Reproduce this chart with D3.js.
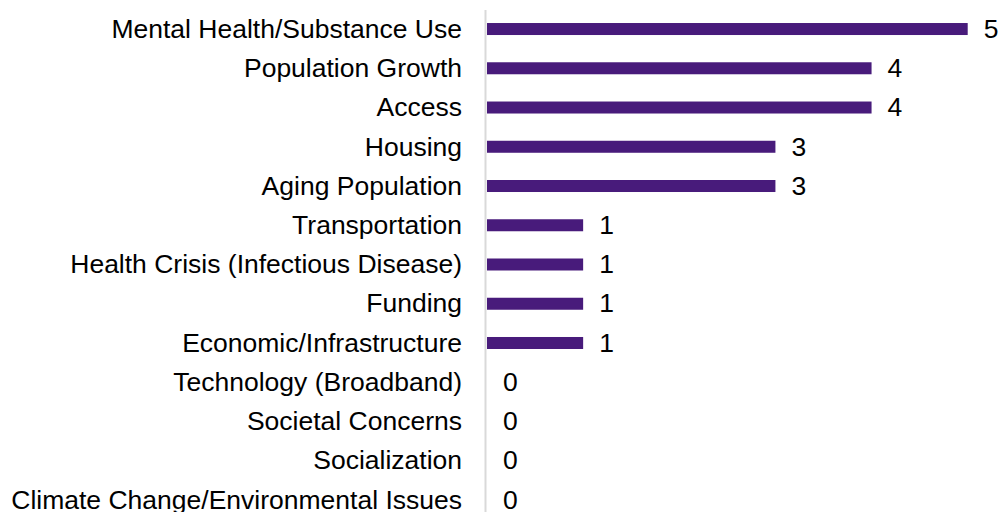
<!DOCTYPE html>
<html><head><meta charset="utf-8">
<script src="https://cdn.jsdelivr.net/npm/d3@7"></script>
<style>html,body{margin:0;padding:0;background:#fff;overflow:hidden}</style>
</head><body>
<svg id="chart" width="1001" height="512"></svg>
<script>
const categories = ["Mental Health/Substance Use","Population Growth","Access","Housing","Aging Population","Transportation","Health Crisis (Infectious Disease)","Funding","Economic/Infrastructure","Technology (Broadband)","Societal Concerns","Socialization","Climate Change/Environmental Issues"];
const values = [5,4,4,3,3,1,1,1,1,0,0,0,0];

const svg = d3.select("#chart");
const x = d3.scaleLinear().domain([0,5]).range([487,967.7]);
const y = d3.scaleBand().domain(categories).range([9.4,519.6]).paddingInner(0.694).paddingOuter(0.347);
const data = categories.map((c,i)=>({c,v:values[i]}));
const font = "'Liberation Sans', Arial, sans-serif";
const fs = 26.5;

svg.append("line").attr("x1",485.5).attr("x2",485.5).attr("y1",10).attr("y2",512)
  .attr("stroke","#d9d9d9").attr("stroke-width",2);

svg.selectAll("rect.bar").data(data).enter().append("rect")
  .attr("x",x(0)).attr("y",d=>y(d.c)+y.bandwidth()/2-6)
  .attr("width",d=>x(d.v)-x(0)).attr("height",12).attr("fill","#481b7b");

svg.selectAll("text.cat").data(data).enter().append("text")
  .attr("x",462).attr("y",d=>y(d.c)+y.bandwidth()/2).attr("dy","0.33em")
  .attr("text-anchor","end").attr("font-family",font).attr("font-size",fs).attr("fill","#000")
  .text(d=>d.c);

svg.selectAll("text.val").data(data).enter().append("text")
  .attr("x",d=>x(d.v)+16).attr("y",d=>y(d.c)+y.bandwidth()/2).attr("dy","0.33em")
  .attr("font-family",font).attr("font-size",fs).attr("fill","#000")
  .text(d=>d.v);
</script>
</body></html>
